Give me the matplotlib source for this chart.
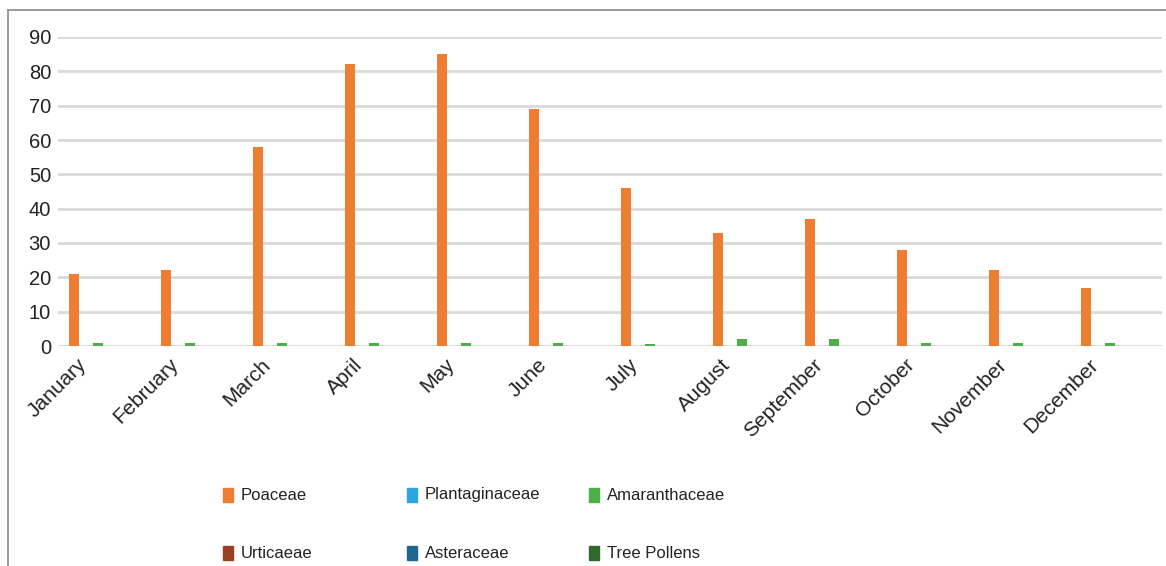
#!/usr/bin/env python3
# -*- coding: utf-8 -*-
# Monthly pollen counts per family, grouped bar chart.

import matplotlib
matplotlib.use("Agg")
import matplotlib.pyplot as plt
import matplotlib.transforms as mtransforms
from matplotlib.patches import Rectangle
from matplotlib.lines import Line2D
import numpy as np

plt.rcParams["font.family"] = ["Liberation Sans", "DejaVu Sans"]

# Data.
months = ["January", "February", "March", "April", "May", "June",
          "July", "August", "September", "October", "November", "December"]
families = ["Poaceae", "Plantaginaceae", "Amaranthaceae",
            "Urticaeae", "Asteraceae", "Tree Pollens"]
poaceae = [21, 22, 58, 82, 85, 69, 46, 33, 37, 28, 22, 17]
plantaginaceae = [0, 0, 0, 0, 0, 0, 0, 0, 0, 0, 0, 0]
amaranthaceae = [1, 1, 1, 1, 1, 1, 0.6, 2, 2, 1, 1, 1]
urticaeae = [0, 0, 0, 0, 0, 0, 0, 0, 0, 0, 0, 0]
asteraceae = [0, 0, 0, 0, 0, 0, 0, 0, 0, 0, 0, 0]
tree_pollens = [0, 0, 0, 0, 0, 0, 0, 0, 0, 0, 0, 0]
colors = ["#ED7D31", "#2AA5DE", "#4CAF48", "#9A3F1F", "#1D6690", "#2E6A2F"]

series = [poaceae, plantaginaceae, amaranthaceae, urticaeae, asteraceae, tree_pollens]

W, H = 1166, 566
fig = plt.figure(figsize=(W / 100, H / 100), dpi=100)
ax = fig.add_axes([58 / W, 1 - 346 / H, (1162 - 58) / W, (346 - 37) / H])

# Bars: six slots per month group.
x = np.arange(len(months)) + 0.5
bar_w = 0.105
for k, (vals, col) in enumerate(zip(series, colors)):
    offs = (12 * k - 30) / 92
    ax.bar(x + offs, vals, width=bar_w, color=col, zorder=3, linewidth=0)

ax.set_xlim(0, 12)
ax.set_ylim(0, 90)
ax.set_yticks(range(0, 91, 10))
ax.yaxis.grid(True, color="#d9d9d9", linewidth=2.0, zorder=0)
ax.set_axisbelow(True)
for s in ax.spines.values():
    s.set_visible(False)
ax.tick_params(axis="y", length=0, labelsize=14.5, colors="#222222", pad=5)
ax.tick_params(axis="x", length=0, colors="#222222", pad=5)

ax.set_xticks(x)
ax.set_xticklabels(months, rotation=45, ha="right", rotation_mode="anchor")
shift = mtransforms.ScaledTranslation(-27 / 100, -2 / 100, fig.dpi_scale_trans)
for lbl in ax.get_xticklabels():
    lbl.set_transform(lbl.get_transform() + shift)
    lbl.set_fontsize(15)

# Legend laid out like the original (2 rows x 3 columns).
leg_x = [223, 407, 589]
leg_y = [495, 553]
for i, (name, col) in enumerate(zip(families, colors)):
    px = leg_x[i % 3]
    py = leg_y[i // 3]
    fig.patches.append(Rectangle((px / W, 1 - (py + 7) / H), 10 / W, 14 / H,
                                 transform=fig.transFigure, color=col))
    fig.text((px + 18) / W, 1 - py / H, name, fontsize=12,
             color="#222222", va="center", ha="left")

# Outer frame (top and left edges).
fig.lines.append(Line2D([8 / W, 1], [1 - 10 / H, 1 - 10 / H],
                        transform=fig.transFigure, color="#8a8a8a", lw=1.2))
fig.lines.append(Line2D([8 / W, 8 / W], [0, 1 - 10 / H],
                        transform=fig.transFigure, color="#8a8a8a", lw=1.2))

fig.savefig("out.png", dpi=100)
